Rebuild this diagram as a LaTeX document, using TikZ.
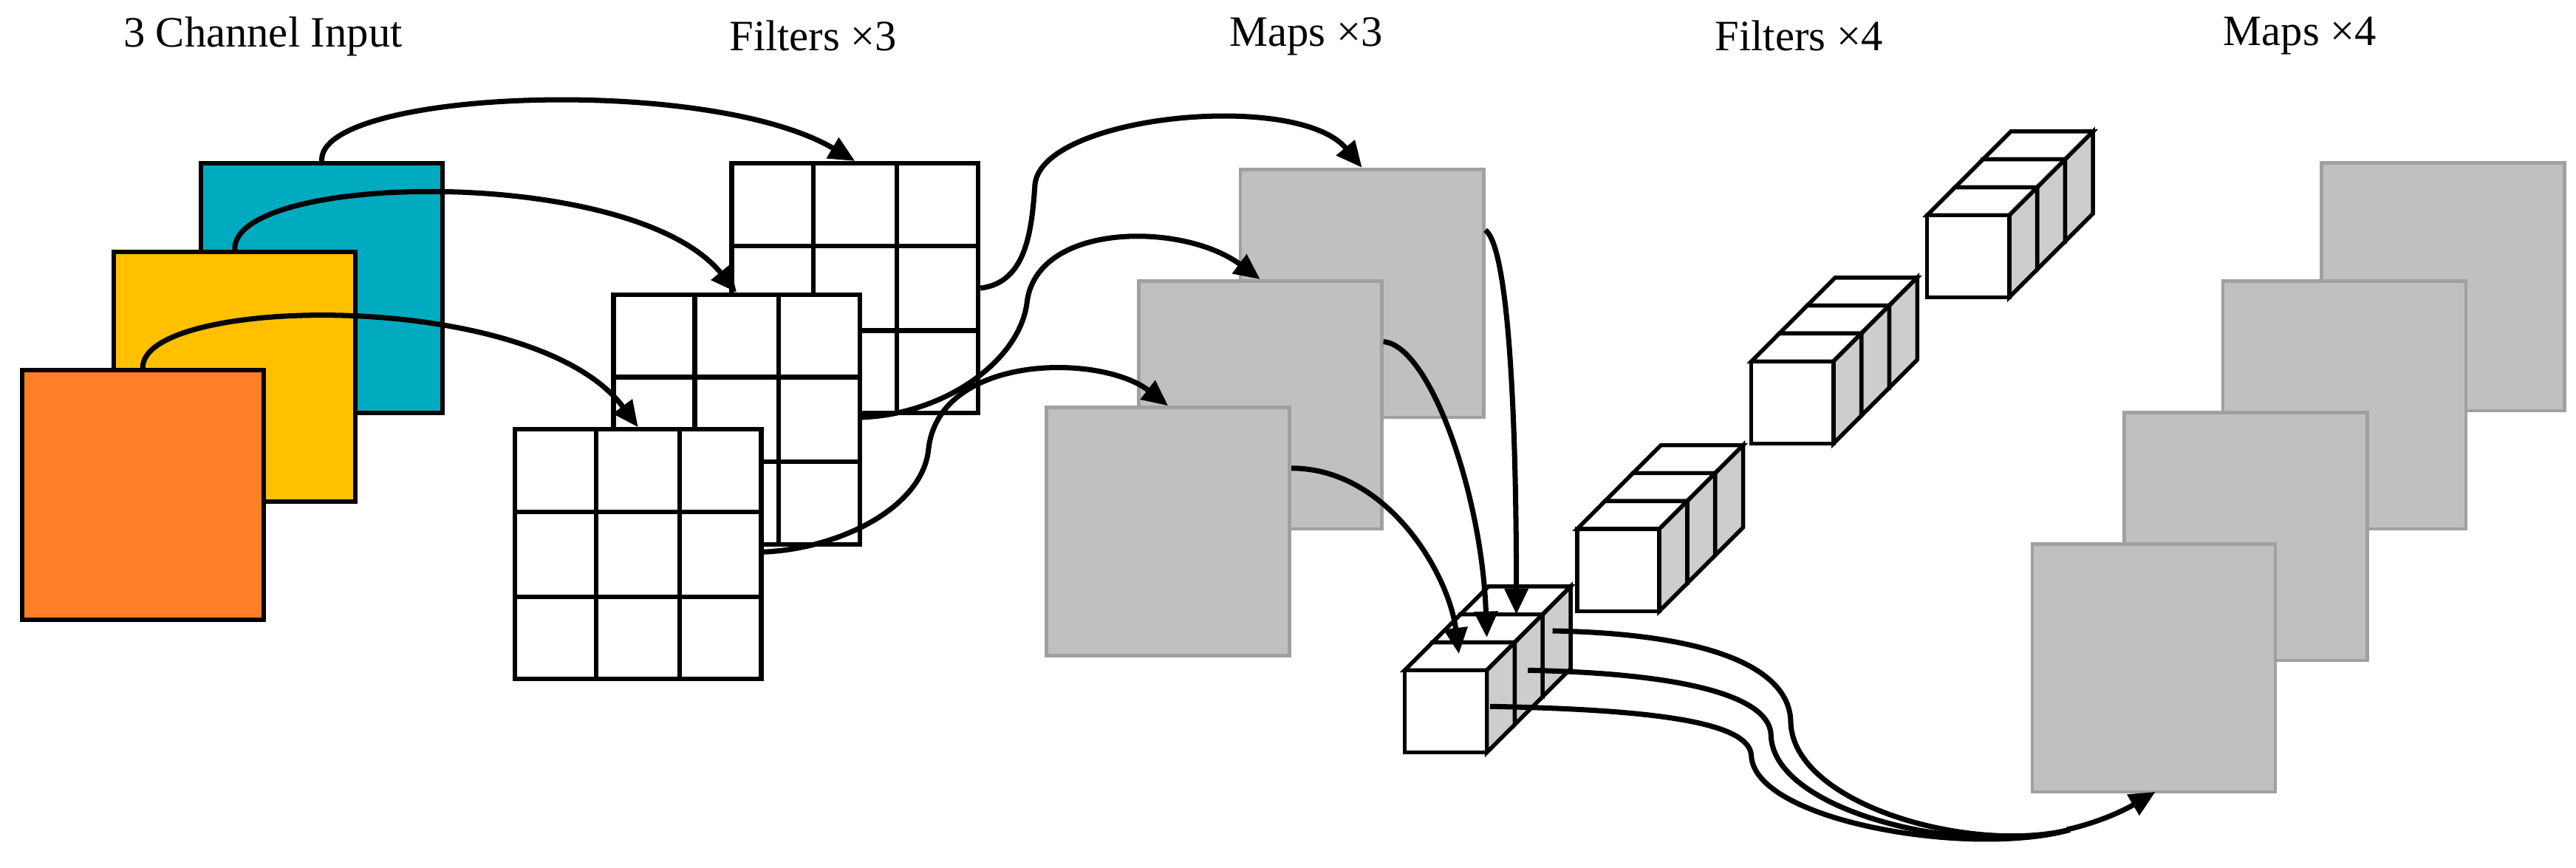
\documentclass[tikz,border=0pt]{standalone}
\usepackage{fontspec}
\setmainfont{Liberation Serif}
\usetikzlibrary{arrows.meta}
\definecolor{tealin}{HTML}{00ABC0}
\definecolor{yellowin}{HTML}{FFC000}
\definecolor{orangein}{HTML}{FF7F27}
\definecolor{mapfill}{HTML}{C0C0C0}
\definecolor{mapline}{HTML}{A0A0A0}
\tikzset{
  inmap/.style={draw, line width=1.6pt, minimum width=2.94cm, minimum height=3.04cm, anchor=north west, inner sep=0pt},
  filt/.style={draw, fill=white, line width=1.6pt, minimum width=3cm, minimum height=3.04cm, anchor=north west, inner sep=0pt},
  fmap/.style={draw=mapline, fill=mapfill, line width=1.2pt, minimum width=2.96cm, minimum height=3.02cm, anchor=north west, inner sep=0pt},
  link/.style={line width=1.8pt, -{Triangle[length=9pt,width=8pt]}},
  plain/.style={line width=1.8pt},
  title/.style={font=\fontsize{15}{18}\selectfont}
}
% one cube of a filter, front face top-left at (#1,#2)
\newcommand{\fcube}[2]{%
  \draw[line width=1.4pt, fill=white] (#1,#2) -- ++(17,-17) -- ++(50,0) -- ++(-17,17) -- cycle;
  \draw[line width=1.4pt, fill=mapfill!80] (#1+50,#2) -- ++(17,-17) -- ++(0,50) -- ++(-17,17) -- cycle;
  \draw[line width=1.4pt, fill=white] (#1,#2) rectangle ++(50,50);
}
\newcommand{\fgroup}[2]{%
  \fcube{#1+34}{#2-34}\fcube{#1+17}{#2-17}\fcube{#1}{#2}
}
\newcommand{\grid}[1]{%
  \draw[line width=1.6pt] ($(#1.north west)!1/3!(#1.north east)$) -- ($(#1.south west)!1/3!(#1.south east)$);
  \draw[line width=1.6pt] ($(#1.north west)!2/3!(#1.north east)$) -- ($(#1.south west)!2/3!(#1.south east)$);
  \draw[line width=1.6pt] ($(#1.north west)!1/3!(#1.south west)$) -- ($(#1.north east)!1/3!(#1.south east)$);
  \draw[line width=1.6pt] ($(#1.north west)!2/3!(#1.south west)$) -- ($(#1.north east)!2/3!(#1.south east)$);
}
\usetikzlibrary{calc}
\begin{document}
\begin{tikzpicture}[x=0.02cm, y=-0.02cm]
        \useasboundingbox (0,0) rectangle (1568,528);

        % titles
        \node[title] (tin) at (160,22) {3 Channel Input};
        \node[title] (tf3) at (495,22) {Filters ×3};
        \node[title] (tm3) at (795,22) {Maps ×3};
        \node[title] (tf4) at (1095,22) {Filters ×4};
        \node[title] (tm4) at (1400,22) {Maps ×4};

        % input channels
        \node[inmap, fill=tealin] (inB) at (121,98) {};
        \node[inmap, fill=yellowin] (inM) at (68,152) {};
        \node[inmap, fill=orangein] (inF) at (12,224) {};

        % filters x3
        \node[filt] (fB) at (444,98) {};  \grid{fB}
        \node[filt] (fM) at (372,178) {}; \grid{fM}
        \node[filt] (fF) at (312,260) {}; \grid{fF}

        % maps x3
        \node[fmap] (mB) at (754,102) {};
        \node[fmap] (mM) at (692,170) {};
        \node[fmap] (mF) at (636,247) {};

        % maps x4
        \node[fmap] (oA) at (1412,98) {};
        \node[fmap] (oB) at (1352,170) {};
        \node[fmap] (oC) at (1292,250) {};
        \node[fmap] (oD) at (1236,330) {};

        % filters x4
        \fgroup{1173}{131}
        \fgroup{1066}{220}
        \fgroup{960}{322}
        \fgroup{855}{408}
        \coordinate (cA) at (923,374);
        \coordinate (cB) at (905,388);
        \coordinate (cC) at (888,398);
        \coordinate (sA) at (945,384);
        \coordinate (sB) at (930,408);
        \coordinate (sC) at (907,430);
        \coordinate (oin) at (1312,482);

        % input -> filters
        \draw[link] (inB.north) .. controls (193,55) and (430,45) .. (fB.north);
        \draw[link] (inM.north) .. controls (141,105) and (385,100) .. (fM.north);
        \draw[link] (inF.north) .. controls (86,180) and (325,175) .. (fF.north);

        % filters -> maps
        \draw[link] (fB.east) .. controls (625,172) and (628,140) .. (630,112) .. controls (635,70) and (790,55) .. (mB.north);
        \draw[link] (fM.east |- 0,254) .. controls (575,252) and (620,220) .. (625,185) .. controls (630,135) and (720,135) .. (mM.north);
        \draw[link] (fF.east |- 0,336) .. controls (510,334) and (560,310) .. (565,275) .. controls (570,215) and (670,215) .. (mF.north);

        % maps -> filter
        \draw[link] (mB.east |- 0,140) .. controls (918,150) and (923,250) .. (cA);
        \draw[link] (mM.east |- 0,208) .. controls (870,210) and (902,300) .. (cB);
        \draw[link] (mF.east |- 0,285) .. controls (845,285) and (882,350) .. (cC);

        % filter -> output map
        \draw[plain] (sA) .. controls (1050,386) and (1090,410) .. (1090,440) .. controls (1092,490) and (1200,520) .. (1260,505);
        \draw[plain] (sB) .. controls (1030,410) and (1078,425) .. (1078,448) .. controls (1080,495) and (1200,522) .. (1260,505);
        \draw[plain] (sC) .. controls (1010,432) and (1065,440) .. (1066,460) .. controls (1068,500) and (1200,522) .. (1260,505);
        \draw[link] (1258,505) .. controls (1280,500) and (1295,492) .. (oin);
\end{tikzpicture}
\end{document}
